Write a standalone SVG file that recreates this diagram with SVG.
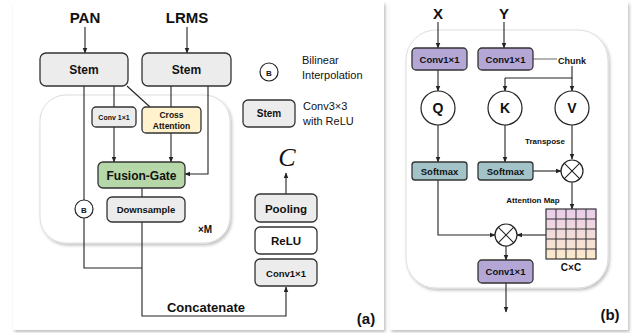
<svg xmlns="http://www.w3.org/2000/svg" width="632" height="333" viewBox="0 0 632 333">
<style>
text{font-family:"Liberation Sans",Arial,sans-serif;fill:#111}
.b{font-weight:bold}
.box{stroke:#333;stroke-width:1.3}
.gray{fill:#ECECEC}
.ln{fill:none;stroke:#222;stroke-width:1.1}
.arr{fill:none;stroke:#222;stroke-width:1.1;marker-end:url(#ah)}
.circ{fill:#fff;stroke:#222;stroke-width:1.2}
</style>
<defs>
<marker id="ah" viewBox="0 0 10 10" refX="9" refY="5" markerWidth="6" markerHeight="6" orient="auto-start-reverse" markerUnits="userSpaceOnUse">
<path d="M0,1 L10,5 L0,9 z" fill="#222"/>
</marker>
<filter id="sh" x="-10%" y="-10%" width="120%" height="120%">
<feDropShadow dx="1.5" dy="2" stdDeviation="1.5" flood-color="#000" flood-opacity="0.25"/>
</filter>
<linearGradient id="gg" x1="0" y1="0" x2="0" y2="1">
<stop offset="0" stop-color="#E9CDEB"/>
<stop offset="1" stop-color="#FBEACB"/>
</linearGradient>
</defs>
<rect x="0" y="0" width="632" height="333" fill="#fff"/>
<!-- panels -->
<rect x="13" y="2" width="371" height="328" fill="#fff" filter="url(#sh)"/>
<rect x="390" y="2" width="238" height="328" fill="#fff" filter="url(#sh)"/>
<rect x="40" y="95" width="190" height="148" rx="26" fill="#fff" stroke="#ddd" stroke-width="1" filter="url(#sh)"/>
<rect x="406" y="30" width="202" height="258" rx="30" fill="#fff" stroke="#ddd" stroke-width="1" filter="url(#sh)"/>

<!-- connectors panel a -->
<g id="connectors-a">
<path class="arr" d="M85,27 V53"/>
<path class="arr" d="M187,27 V53"/>
<path class="ln" d="M84,86 V200"/>
<path class="ln" d="M114,86 V107"/>
<path class="ln" d="M127,86 L150,107"/>
<path class="ln" d="M171,86 V107"/>
<path class="arr" d="M114,127 V162"/>
<path class="arr" d="M171,133 V162"/>
<path class="arr" d="M208,86 V174 H185"/>
<path class="ln" d="M142,188 V197"/>
<path class="ln" d="M84,218 V268 H142"/>
<path class="arr" d="M142,222 V316 H286 V287"/>
<path class="arr" d="M286,194 V173"/>
</g>

<!-- connectors panel b -->
<g id="connectors-b">
<path class="arr" d="M438,22 V48"/>
<path class="arr" d="M504,22 V48"/>
<path class="arr" d="M438,70 V91"/>
<path d="M533,59 H557" fill="none" stroke="#777" stroke-width="1.1"/>
<path class="ln" d="M572,66 V78 H505"/>
<path class="arr" d="M505,78 V91"/>
<path class="arr" d="M572,78 V91"/>
<path class="arr" d="M438,125 V162"/>
<path class="arr" d="M505,125 V162"/>
<path class="arr" d="M572,125 V159"/>
<path class="arr" d="M533,171 H561"/>
<path class="arr" d="M572,182 V209"/>
<path class="arr" d="M438,180 V235 H495"/>
<path class="arr" d="M546,235 H517"/>
<path class="arr" d="M506,246 V260"/>
<path class="arr" d="M506,283 V312"/>
</g>

<!-- panel a nodes -->
<text class="b" x="85" y="23" font-size="15" text-anchor="middle">PAN</text>
<text class="b" x="187" y="23" font-size="15" text-anchor="middle">LRMS</text>
<g id="stem-pan"><rect class="box gray" x="40" y="53" width="88" height="33" rx="6"/><text class="b" x="84" y="74" font-size="12" text-anchor="middle">Stem</text></g>
<g id="stem-lrms"><rect class="box gray" x="142" y="53" width="89" height="33" rx="6"/><text class="b" x="186.5" y="74" font-size="12" text-anchor="middle">Stem</text></g>
<g id="conv1x1-a"><rect class="box gray" x="92" y="107" width="44" height="20" rx="4"/><text class="b" x="114" y="120" font-size="7" text-anchor="middle">Conv 1×1</text></g>
<g id="cross-attention"><rect class="box" fill="#FFF2CC" x="142" y="107" width="59" height="26" rx="4"/><text class="b" x="171.5" y="118" font-size="8.5" text-anchor="middle">Cross</text><text class="b" x="171.5" y="129" font-size="8.5" text-anchor="middle">Attention</text></g>
<g id="fusion-gate"><rect class="box" fill="#B6D7A8" x="98" y="162" width="87" height="26" rx="5"/><text class="b" x="141.5" y="179.5" font-size="12" text-anchor="middle">Fusion-Gate</text></g>
<g id="downsample"><rect class="box gray" x="107" y="197" width="78" height="25" rx="5"/><text class="b" x="146" y="213" font-size="9.5" text-anchor="middle">Downsample</text></g>
<g id="bilinear-b"><circle class="circ" cx="84" cy="209" r="9"/><text class="b" x="84" y="212.5" font-size="8" text-anchor="middle">B</text></g>
<text class="b" x="205" y="233" font-size="10" text-anchor="middle">×M</text>
<text class="b" x="206" y="312" font-size="13" text-anchor="middle">Concatenate</text>
<g id="pooling"><rect class="box gray" x="255" y="194" width="62" height="28" rx="5"/><text class="b" x="286" y="212.5" font-size="11.5" text-anchor="middle">Pooling</text></g>
<g id="relu"><rect class="box" fill="#fff" x="255" y="227" width="62" height="27" rx="5"/><text class="b" x="286" y="245" font-size="11.5" text-anchor="middle">ReLU</text></g>
<g id="conv1x1-out"><rect class="box gray" x="255" y="259" width="62" height="27" rx="5"/><text class="b" x="286" y="276.5" font-size="9.5" text-anchor="middle">Conv1×1</text></g>
<text x="287" y="166" font-size="26" font-style="italic" text-anchor="middle" style="font-family:'Liberation Serif','Times New Roman',serif">C</text>
<!-- legend -->
<g id="legend-b"><circle class="circ" cx="269" cy="72" r="9"/><text class="b" x="269" y="75.5" font-size="8" text-anchor="middle">B</text><text x="302" y="64" font-size="11">Bilinear</text><text x="302" y="79" font-size="11">Interpolation</text></g>
<g id="legend-stem"><rect class="box gray" x="243" y="100" width="52" height="27" rx="5"/><text class="b" x="269" y="117" font-size="10" text-anchor="middle">Stem</text><text x="303" y="110" font-size="11">Conv3×3</text><text x="303" y="125" font-size="11">with ReLU</text></g>
<text class="b" x="366" y="324" font-size="15" text-anchor="middle">(a)</text>

<!-- panel b nodes -->
<text class="b" x="438" y="19" font-size="15" text-anchor="middle">X</text>
<text class="b" x="504" y="19" font-size="15" text-anchor="middle">Y</text>
<g id="conv-x"><rect class="box" fill="#B4A7D6" x="412" y="48" width="55" height="22" rx="4"/><text class="b" x="439.5" y="62.5" font-size="9.5" text-anchor="middle">Conv1×1</text></g>
<g id="conv-y"><rect class="box" fill="#B4A7D6" x="478" y="48" width="55" height="22" rx="4"/><text class="b" x="505.5" y="62.5" font-size="9.5" text-anchor="middle">Conv1×1</text></g>
<text class="b" x="558" y="64" font-size="9">Chunk</text>
<g id="q"><circle class="circ" cx="438" cy="108" r="17"/><text class="b" x="438" y="113" font-size="14" text-anchor="middle">Q</text></g>
<g id="k"><circle class="circ" cx="505" cy="108" r="17"/><text class="b" x="505" y="113" font-size="14" text-anchor="middle">K</text></g>
<g id="v"><circle class="circ" cx="572" cy="108" r="17"/><text class="b" x="572" y="113" font-size="14" text-anchor="middle">V</text></g>
<text class="b" x="545" y="144" font-size="8" text-anchor="middle">Transpose</text>
<g id="softmax-q"><rect class="box" fill="#A2C4C9" x="412" y="162" width="55" height="18" rx="3"/><text class="b" x="439.5" y="174.5" font-size="9.5" text-anchor="middle">Softmax</text></g>
<g id="softmax-k"><rect class="box" fill="#A2C4C9" x="478" y="162" width="55" height="18" rx="3"/><text class="b" x="505.5" y="174.5" font-size="9.5" text-anchor="middle">Softmax</text></g>
<g id="mul1"><circle class="circ" cx="572" cy="171" r="11"/><path class="ln" d="M564.2,163.2 L579.8,178.8 M579.8,163.2 L564.2,178.8"/></g>
<text class="b" x="533" y="203" font-size="8" text-anchor="middle">Attention Map</text>
<g id="attention-map">
<rect x="546" y="209" width="50" height="50" fill="url(#gg)" stroke="#333" stroke-width="1.2"/>
<path d="M556,209 V259 M566,209 V259 M576,209 V259 M586,209 V259 M546,219 H596 M546,229 H596 M546,239 H596 M546,249 H596" fill="none" stroke="#333" stroke-width="1"/>
<text class="b" x="571" y="271" font-size="10" text-anchor="middle">C×C</text>
</g>
<g id="mul2"><circle class="circ" cx="506" cy="235" r="11"/><path class="ln" d="M498.2,227.2 L513.8,242.8 M513.8,227.2 L498.2,242.8"/></g>
<g id="conv-out"><rect class="box" fill="#B4A7D6" x="478" y="260" width="55" height="23" rx="4"/><text class="b" x="505.5" y="275" font-size="9.5" text-anchor="middle">Conv1×1</text></g>
<text class="b" x="610" y="320" font-size="15" text-anchor="middle">(b)</text>
</svg>
